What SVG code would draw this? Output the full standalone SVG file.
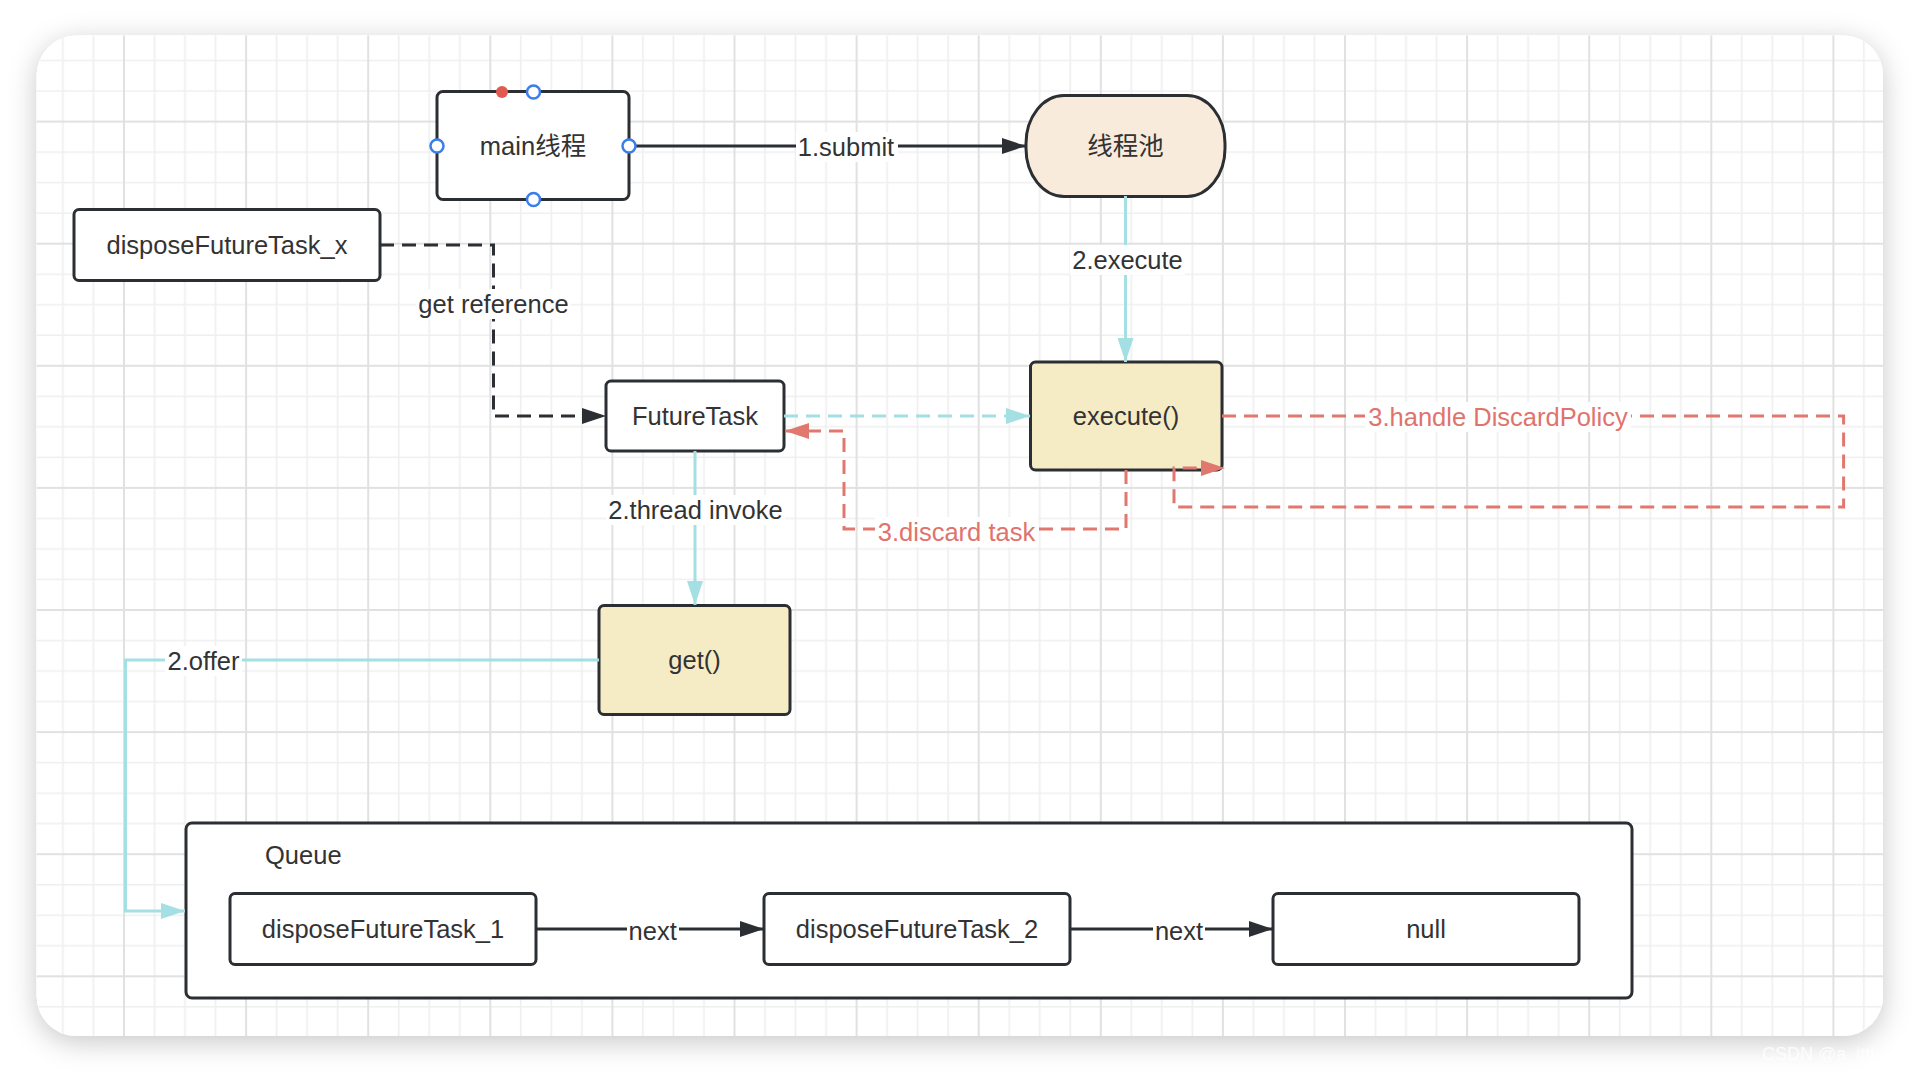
<svg xmlns="http://www.w3.org/2000/svg" width="1920" height="1072" viewBox="0 0 1920 1072">
<defs>
<filter id="shadow" x="-5%" y="-5%" width="110%" height="112%">
<feDropShadow dx="0" dy="6" stdDeviation="14" flood-color="#000" flood-opacity="0.22"/>
</filter>
<pattern id="grid" patternUnits="userSpaceOnUse" x="0.9" y="-1.5" width="122.1" height="122.1">
<rect width="122.1" height="122.1" fill="#ffffff"/>
<path d="M31.5,0V122.1M62,0V122.1M92.6,0V122.1M0,31.5H122.1M0,62H122.1M0,92.6H122.1" stroke="#efefef" stroke-width="1.6" fill="none"/>
<path d="M1,0V122.1M0,1H122.1" stroke="#e1e1e1" stroke-width="2" fill="none"/>
</pattern>
<marker id="arrBlack" markerUnits="userSpaceOnUse" markerWidth="24" markerHeight="16" refX="24" refY="8" orient="auto">
<path d="M0,0 L24,8 L0,16 z" fill="#2b2f33"/>
</marker>
<marker id="arrCyan" markerUnits="userSpaceOnUse" markerWidth="24" markerHeight="16" refX="24" refY="8" orient="auto">
<path d="M0,0 L24,8 L0,16 z" fill="#a3dfe3"/>
</marker>
<marker id="arrRed" markerUnits="userSpaceOnUse" markerWidth="24" markerHeight="16" refX="24" refY="8" orient="auto">
<path d="M0,0 L24,8 L0,16 z" fill="#e07870"/>
</marker>
<style>
.node{fill:#ffffff;stroke:#2b2f33;stroke-width:3}
.yellow{fill:#f5ecc6}
.peach{fill:#f9ebdc}
.t{font-family:"Liberation Sans","Noto Sans CJK SC",sans-serif;font-size:25.5px;fill:#333333;text-anchor:middle}
.ts{text-anchor:start}
.tr{fill:#e0736c}
.lbl{fill:#ffffff}
.cb{fill:none;stroke:#2b2f33;stroke-width:3}
.cc{fill:none;stroke:#a3dfe3;stroke-width:3}
.cr{fill:none;stroke:#e07870;stroke-width:3;stroke-dasharray:14 8}
.dash{stroke-dasharray:14 8}
.pt{fill:#ffffff;stroke:#3b7de9;stroke-width:2.5}
</style>
</defs>
<rect width="1920" height="1072" fill="#ffffff"/>
<rect x="36.7" y="35.5" width="1846.3" height="1000.5" rx="40" fill="#ffffff" filter="url(#shadow)"/>
<rect x="36.7" y="35.5" width="1846.3" height="1000.5" rx="40" fill="url(#grid)"/>
<text x="1762" y="1060" font-family="Liberation Sans, sans-serif" font-size="18" fill="#ffffff" fill-opacity="0.85">CSDN @a_ittle_</text>

<g id="queue">
<rect class="node" x="186" y="823" width="1446" height="175" rx="6"/>
<text class="t ts" x="265" y="864">Queue</text>
</g>
<g id="main-thread">
<rect class="node" x="437" y="91.5" width="192" height="108" rx="6"/>
<text class="t" x="533" y="155">main线程</text>
</g>
<g id="thread-pool">
<rect class="node peach" x="1026" y="95.5" width="199" height="101" rx="38" ry="48"/>
<text class="t" x="1125.5" y="155">线程池</text>
</g>
<g id="disposeFutureTask_x">
<rect class="node" x="74" y="209.5" width="306" height="71" rx="5"/>
<text class="t" x="227" y="254">disposeFutureTask_x</text>
</g>
<g id="futuretask">
<rect class="node" x="606" y="381" width="178" height="70" rx="5"/>
<text class="t" x="695" y="425">FutureTask</text>
</g>
<g id="execute">
<rect class="node yellow" x="1030.5" y="362" width="191.5" height="108" rx="5"/>
<text class="t" x="1126" y="425">execute()</text>
</g>
<g id="get">
<rect class="node yellow" x="599" y="605.5" width="191" height="109" rx="5"/>
<text class="t" x="694.5" y="669">get()</text>
</g>
<g id="disposeFutureTask_1">
<rect class="node" x="230" y="893.5" width="306" height="71" rx="5"/>
<text class="t" x="383" y="938">disposeFutureTask_1</text>
</g>
<g id="disposeFutureTask_2">
<rect class="node" x="764" y="893.5" width="306" height="71" rx="5"/>
<text class="t" x="917" y="938">disposeFutureTask_2</text>
</g>
<g id="null">
<rect class="node" x="1273" y="893.5" width="306" height="71" rx="5"/>
<text class="t" x="1426" y="938">null</text>
</g>

<g id="connectors">
<path class="cb" d="M629,146 H1026" marker-end="url(#arrBlack)"/>
<path class="cc" d="M1125.5,196 V362" marker-end="url(#arrCyan)"/>
<path class="cb dash" d="M380,245 H493.5 V416 H606" marker-end="url(#arrBlack)"/>
<path class="cc dash" d="M784,416 H1030" marker-end="url(#arrCyan)"/>
<path class="cc" d="M695,451 V605" marker-end="url(#arrCyan)"/>
<path class="cr" d="M1126,470 V529 H844 V431 H785" marker-end="url(#arrRed)"/>
<path class="cr" d="M1222,416 H1843.6 V507 H1174 V468 H1225" marker-end="url(#arrRed)"/>
<path class="cc" d="M599,660 H125.5 V911 H185" marker-end="url(#arrCyan)"/>
<path class="cb" d="M536,929 H764" marker-end="url(#arrBlack)"/>
<path class="cb" d="M1070,929 H1273" marker-end="url(#arrBlack)"/>
<g id="labels">
<rect class="lbl" x="796" y="132" width="102" height="30"/>
<text class="t" x="846" y="156">1.submit</text>
<rect class="lbl" x="1070" y="245" width="115" height="30"/>
<text class="t" x="1127.5" y="269">2.execute</text>
<rect class="lbl" x="416" y="289" width="155" height="30"/>
<text class="t" x="493.5" y="313">get reference</text>
<rect class="lbl" x="606" y="495" width="179" height="30"/>
<text class="t" x="695.5" y="519">2.thread invoke</text>
<rect class="lbl" x="875" y="517" width="163" height="30"/>
<text class="t tr" x="956.5" y="541">3.discard task</text>
<rect class="lbl" x="1365" y="402" width="266" height="30"/>
<text class="t tr" x="1498" y="426">3.handle DiscardPolicy</text>
<rect class="lbl" x="165" y="646" width="77" height="30"/>
<text class="t" x="203.5" y="670">2.offer</text>
<rect class="lbl" x="627" y="915" width="52" height="30"/>
<text class="t" x="652.7" y="940">next</text>
<rect class="lbl" x="1153" y="915" width="52" height="30"/>
<text class="t" x="1179" y="940">next</text>
</g>
</g>

<g id="main-thread-handles">
<circle cx="502" cy="92" r="6" fill="#e05a4f"/>
<circle class="pt" cx="533.5" cy="92" r="6.5"/>
<circle class="pt" cx="437" cy="146" r="6.5"/>
<circle class="pt" cx="629" cy="146" r="6.5"/>
<circle class="pt" cx="533.5" cy="199.5" r="6.5"/>
</g>
</svg>
